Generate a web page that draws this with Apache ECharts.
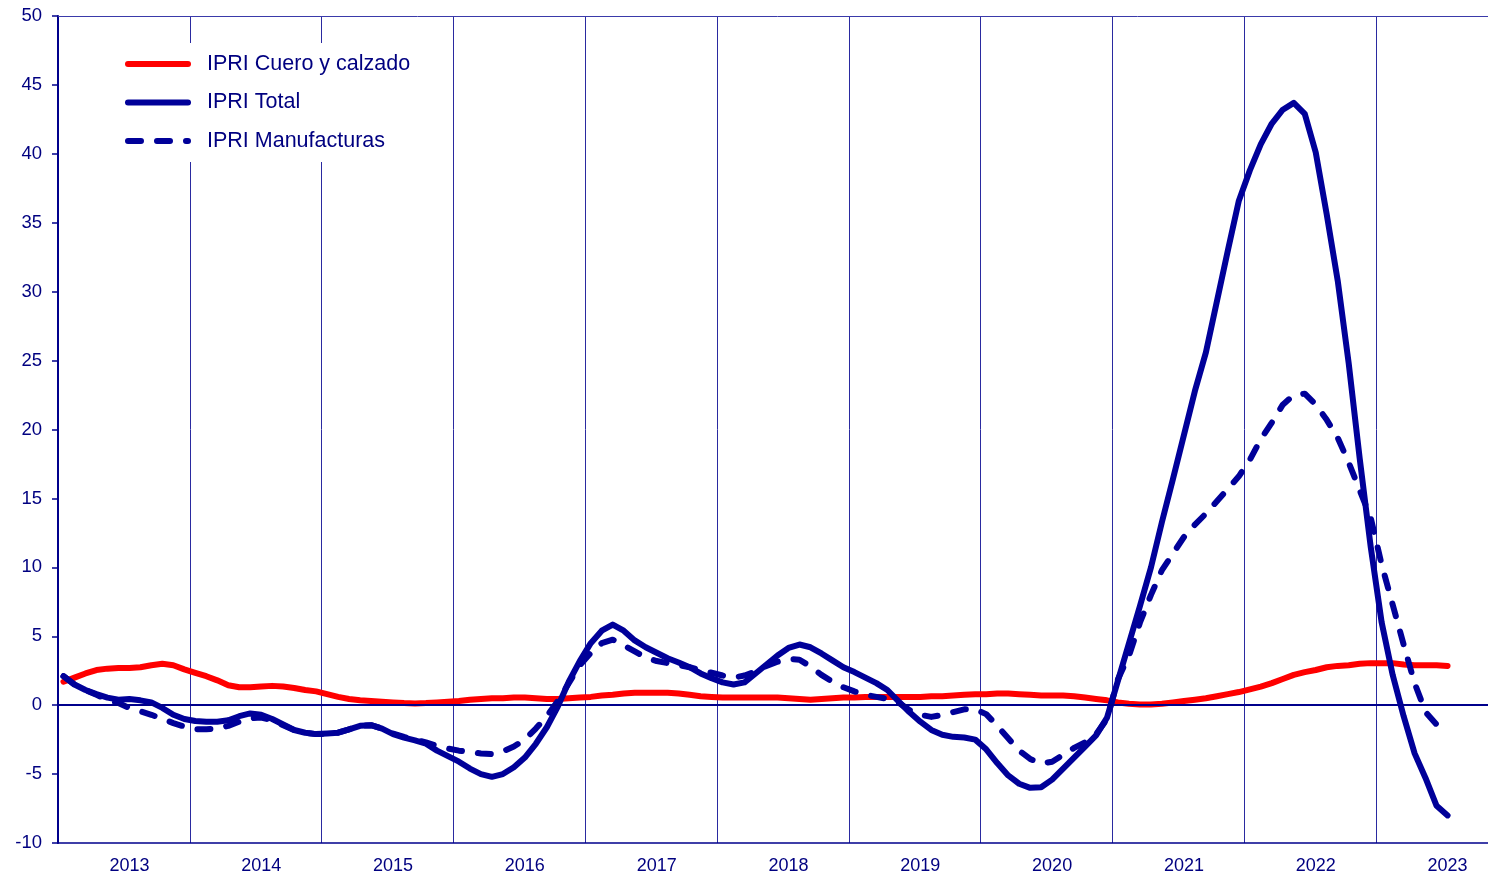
<!DOCTYPE html>
<html>
<head>
<meta charset="utf-8">
<script src="https://cdn.jsdelivr.net/npm/echarts@6/dist/echarts.min.js"></script>
<style>
html, body { margin: 0; padding: 0; background: #fff; overflow: hidden; }
/* the plot runs a little past the right edge of the 1488px picture */
#cc { width: 1497px; height: 878px; }
</style>
</head>
<body>
<div id="cc"></div>
<script>
// years shown on the x axis; months run Jan 2013 .. Nov 2023 (data ends Jul 2023)
var years = ['2013', '2014', '2015', '2016', '2017', '2018', '2019', '2020', '2021', '2022', '2023'];
var monthCount = 131;

var cuero = [
    1.7, 2.0, 2.3, 2.55, 2.65, 2.7, 2.7, 2.75, 2.9, 3.0, 2.9, 2.6,
    2.35, 2.1, 1.8, 1.45, 1.3, 1.3, 1.35, 1.4, 1.35, 1.25, 1.1, 1.0,
    0.8, 0.6, 0.45, 0.35, 0.3, 0.25, 0.2, 0.15, 0.12, 0.15, 0.2, 0.25,
    0.3, 0.4, 0.45, 0.5, 0.5, 0.55, 0.55, 0.5, 0.45, 0.45, 0.5, 0.55,
    0.6, 0.7, 0.75, 0.85, 0.9, 0.9, 0.9, 0.9, 0.85, 0.75, 0.65, 0.6,
    0.55, 0.55, 0.55, 0.55, 0.55, 0.55, 0.5, 0.45, 0.4, 0.45, 0.5, 0.55,
    0.55, 0.6, 0.6, 0.6, 0.6, 0.6, 0.6, 0.65, 0.65, 0.7, 0.75, 0.8,
    0.8, 0.85, 0.85, 0.8, 0.75, 0.7, 0.7, 0.7, 0.65, 0.55, 0.45, 0.35,
    0.2, 0.1, 0.05, 0.05, 0.1, 0.2, 0.3, 0.4, 0.5, 0.65, 0.8, 0.95,
    1.15, 1.35, 1.6, 1.9, 2.2, 2.4, 2.55, 2.75, 2.85, 2.9, 3.0, 3.05,
    3.05, 3.05, 2.95, 2.9, 2.9, 2.9, 2.85
];

var total = [
    2.1, 1.5, 1.1, 0.8, 0.55, 0.4, 0.45, 0.35, 0.2, -0.2, -0.7, -1.0,
    -1.15, -1.2, -1.2, -1.1, -0.8, -0.6, -0.7, -1.0, -1.4, -1.8, -2.0, -2.1,
    -2.05, -2.0, -1.75, -1.5, -1.45, -1.7, -2.1, -2.35, -2.55, -2.8, -3.3, -3.7,
    -4.1, -4.6, -5.0, -5.2, -5.0, -4.5, -3.8, -2.8, -1.6, -0.1, 1.7, 3.2,
    4.5, 5.4, 5.85, 5.4, 4.7, 4.2, 3.8, 3.4, 3.1, 2.75, 2.3, 1.95,
    1.65, 1.5, 1.65, 2.3, 2.95, 3.6, 4.15, 4.4, 4.2, 3.75, 3.25, 2.75,
    2.4, 2.0, 1.6, 1.1, 0.3, -0.5, -1.2, -1.8, -2.15, -2.3, -2.35, -2.5,
    -3.2, -4.2, -5.1, -5.7, -6.0, -5.95, -5.4, -4.6, -3.8, -3.0, -2.2, -0.9,
    1.8, 4.5, 7.2, 10.0, 13.3, 16.4, 19.6, 22.8, 25.6, 29.3, 33.0, 36.6,
    38.8, 40.7, 42.2, 43.2, 43.7, 42.9, 40.1, 35.6, 30.8, 24.8, 17.9, 11.5,
    6.0, 2.2, -0.8, -3.5, -5.3, -7.3, -8.0
];

var manufacturas = [
    2.1, 1.5, 1.1, 0.75, 0.4, 0.15, -0.2, -0.45, -0.7, -1.0, -1.3, -1.55,
    -1.75, -1.75, -1.7, -1.5, -1.2, -0.95, -0.9, -1.1, -1.45, -1.8, -2.0, -2.1,
    -2.1, -2.0, -1.75, -1.5, -1.45, -1.7, -2.05, -2.3, -2.5, -2.7, -2.95, -3.15,
    -3.3, -3.4, -3.5, -3.55, -3.35, -3.0, -2.5, -1.7, -0.8, 0.3, 1.6, 2.9,
    3.8, 4.5, 4.75, 4.35, 3.9, 3.45, 3.2, 3.05, 2.9, 2.75, 2.55, 2.35,
    2.15, 2.0, 2.15, 2.45, 2.85, 3.15, 3.35, 3.3, 2.8, 2.2, 1.7, 1.3,
    1.0, 0.75, 0.6, 0.45, 0.2, -0.35, -0.7, -0.85, -0.7, -0.5, -0.3, -0.3,
    -0.65, -1.5, -2.4, -3.3, -3.9, -4.25, -4.1, -3.6, -3.1, -2.7, -2.1, -1.0,
    1.9, 3.6, 6.0, 8.0, 9.8, 11.0, 12.2, 13.1, 13.9, 14.8, 15.7, 16.6,
    17.8, 19.3, 20.5, 21.8, 22.5, 22.6, 21.8, 20.7, 19.4, 17.6, 15.6, 13.6,
    10.2, 7.3, 4.4, 1.6, -0.5, -1.4, -1.9
];

var seriesNames = ['IPRI Cuero y calzado', 'IPRI Total', 'IPRI Manufacturas'];

var months = [];
years.forEach(function (y) {
    for (var m = 1; m <= 12; m++) months.push(y + '-' + (m < 10 ? '0' + m : m));
});
months = months.slice(0, monthCount);

var navy = '#00008C';
var lineBlue = '#000099';
var font = 'Liberation Sans, Arial, sans-serif';
var lineW = 6;

var chart = echarts.init(document.getElementById('cc'));

var option = {
    animation: false,
    backgroundColor: '#fff',
    grid: { left: 58, right: 0, top: 16, bottom: 35, containLabel: false },
    legend: {
        data: seriesNames,
        orient: 'vertical',
        left: 100,
        top: 43,
        padding: [10, 24, 10, 25],
        backgroundColor: '#fff',
        itemWidth: 60,
        itemHeight: 20,
        itemGap: 16.5,
        itemStyle: { opacity: 0 },
        lineStyle: { width: lineW, cap: 'round' },
        textStyle: {
            color: '#000080',
            fontSize: 21.5,
            lineHeight: 20,
            fontFamily: font,
            padding: [0, 0, 0, 14]
        }
    },
    xAxis: [{
        type: 'category',
        data: months,
        boundaryGap: true,
        axisLine: { onZero: false, lineStyle: { color: navy, width: 1.5 } },
        axisTick: { show: false },
        axisLabel: {
            interval: function (i) { return i % 12 === 6; },
            formatter: function (v) { return v.split('-')[0]; },
            color: '#000080',
            fontSize: 18,
            fontFamily: font,
            margin: 14
        },
        splitLine: {
            show: true,
            interval: function (i) { return i % 12 === 0; },
            lineStyle: { color: '#2a2aa0', width: 1 }
        }
    }, {
        type: 'category',
        data: months,
        position: 'top',
        boundaryGap: true,
        axisLine: { onZero: false, lineStyle: { color: '#3a3aaa', width: 1 } },
        axisTick: { show: false },
        axisLabel: { show: false },
        splitLine: { show: false }
    }],
    yAxis: {
        type: 'value',
        min: -10,
        max: 50,
        interval: 5,
        axisLine: { show: true, lineStyle: { color: navy, width: 2 } },
        axisTick: { show: true, length: 6, lineStyle: { color: navy, width: 1.5 } },
        axisLabel: { color: '#000080', fontSize: 18.5, fontFamily: font, margin: 16 },
        splitLine: { show: false }
    },
    series: [
        {
            name: 'zero',
            type: 'line',
            data: [],
            z: 1,
            silent: true,
            markLine: {
                silent: true,
                symbol: 'none',
                label: { show: false },
                lineStyle: { color: navy, width: 2, type: 'solid' },
                data: [{ yAxis: 0 }]
            }
        },
        {
            name: seriesNames[0],
            type: 'line',
            data: cuero,
            symbol: 'none',
            itemStyle: { color: '#FF0000' },
            lineStyle: { color: '#FF0000', width: lineW, cap: 'round', join: 'round' }
        },
        {
            name: seriesNames[1],
            type: 'line',
            data: total,
            symbol: 'none',
            itemStyle: { color: lineBlue },
            lineStyle: { color: lineBlue, width: lineW, cap: 'round', join: 'round' }
        },
        {
            name: seriesNames[2],
            type: 'line',
            data: manufacturas,
            symbol: 'none',
            itemStyle: { color: lineBlue },
            lineStyle: { color: lineBlue, width: lineW, type: [13, 16], cap: 'round', join: 'round' }
        }
    ]
};

chart.setOption(option);
</script>
</body>
</html>
